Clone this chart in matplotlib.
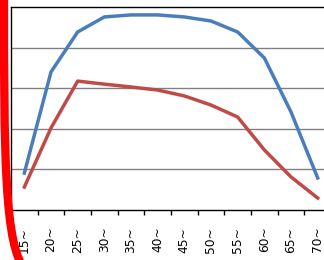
import matplotlib
matplotlib.use('Agg')
import numpy as np
import matplotlib.pyplot as plt
from matplotlib.path import Path
from matplotlib.patches import PathPatch
from matplotlib.transforms import Affine2D

# age groups and the two series (0-100 scale, gridline every 20)
ages = ['15~', '20~', '25~', '30~', '35~', '40~', '45~', '50~', '55~', '60~', '65~', '70~']
blue_vals = [18.2, 68.0, 87.7, 95.1, 96.1, 96.1, 95.1, 93.1, 87.7, 74.9, 48.3, 15.8]
red_vals = [11.3, 40.4, 63.5, 62.0, 60.6, 59.1, 56.2, 51.7, 45.8, 29.6, 16.3, 5.9]

W, H = 324, 260
fig = plt.figure(figsize=(W / 100, H / 100), dpi=100)
fig.patch.set_facecolor('white')

# plot area runs past the right edge (cropped screenshot)
ax = fig.add_axes([11 / W, 50 / H, 320 / W, 203 / H])
x = np.arange(len(ages))

ax.set_xlim(-0.5, len(ages) - 0.5)
ax.set_ylim(0, 100)
ax.set_yticks([20, 40, 60, 80])
ax.yaxis.grid(True, color='#808080', lw=1.0)
ax.set_axisbelow(True)
ax.tick_params(axis='y', length=0, labelleft=False)

ax.plot(x, blue_vals, color='#4A7EBB', lw=2.5, solid_joinstyle='round')
ax.plot(x, red_vals, color='#BE4B48', lw=2.5, solid_joinstyle='round')

# tick marks between categories, labels on categories
ax.set_xticks(x)
ax.set_xticklabels(ages, rotation=90, fontsize=8.8, va='top')
ax.set_xticks(np.arange(len(ages) + 1) - 0.5, minor=True)
ax.tick_params(axis='x', which='major', length=0, pad=12)
ax.tick_params(axis='x', which='minor', length=3.6, width=1.0, color='black', direction='out')

for s in ['left', 'bottom', 'top']:
  ax.spines[s].set_color('black')
  ax.spines[s].set_linewidth(1.0)
ax.spines['right'].set_visible(False)

# red hand-drawn style annotation stroke on the left
flip = Affine2D().scale(1, -1).translate(0, H)
verts = [(4, -5), (4, 150), (4, 250), (26, 270)]
codes = [Path.MOVETO, Path.CURVE4, Path.CURVE4, Path.CURVE4]
stroke = PathPatch(Path(verts, codes), facecolor='none', edgecolor='#FF0000',
                   lw=6.0, transform=flip, clip_on=False)
fig.add_artist(stroke)

fig.savefig('out.png', dpi=100, facecolor='white')
